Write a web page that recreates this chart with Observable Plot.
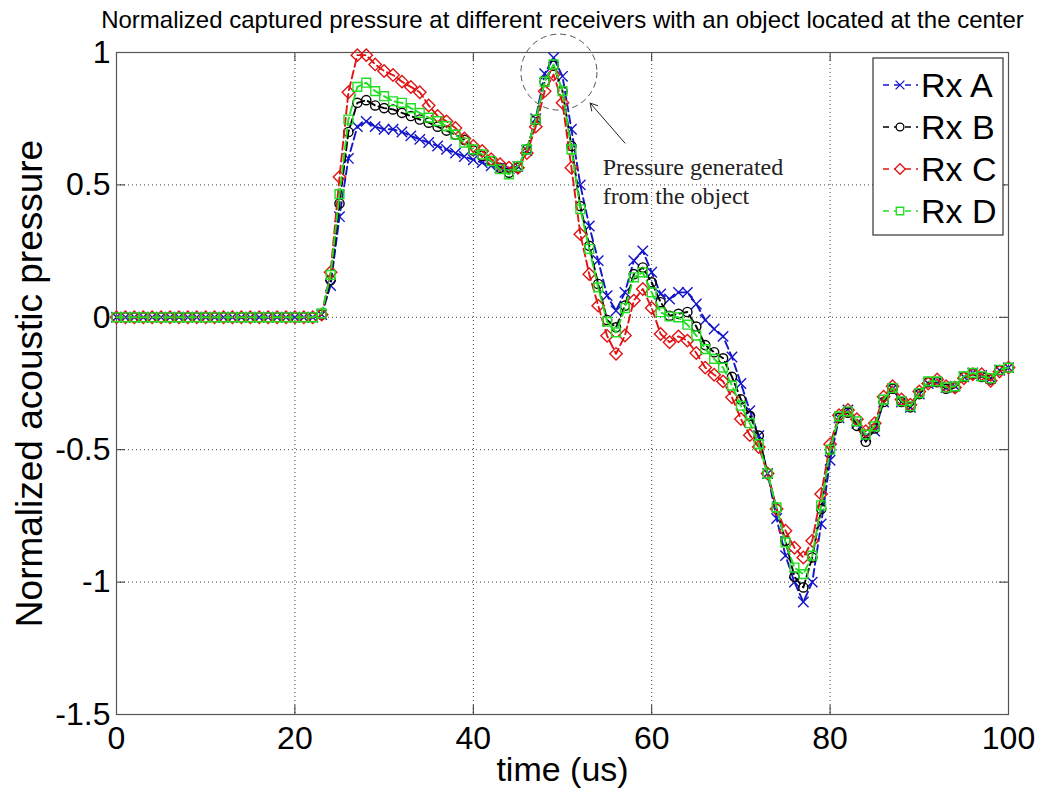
<!DOCTYPE html>
<html>
<head>
<meta charset="utf-8">
<script src="https://cdn.jsdelivr.net/npm/d3@7"></script>
<script src="https://cdn.jsdelivr.net/npm/@observablehq/plot@0.6"></script>
<style>
  html, body { margin: 0; padding: 0; background: #fff; }
  #chart svg { display: block; }
</style>
</head>
<body>
<div id="chart"></div>
<script>
const time = [0,1,2,3,4,5,6,7,8,9,10,11,12,13,14,15,16,17,18,19,20,21,22,23,24,25,26,27,28,29,30,31,32,33,34,35,36,37,38,39,40,41,42,43,44,45,46,47,48,49,50,51,52,53,54,55,56,57,58,59,60,61,62,63,64,65,66,67,68,69,70,71,72,73,74,75,76,77,78,79,80,81,82,83,84,85,86,87,88,89,90,91,92,93,94,95,96,97,98,99,100];

const rxA = [0,0,0,0,0,0,0,0,0,0,0,0,0,0,0,0,0,0,0,0,0,0,0,
  0.01,0.12,0.38,0.60,0.72,0.74,0.72,0.71,0.71,0.70,0.685,0.672,0.66,0.647,0.634,0.62,0.607,0.595,0.584,0.572,0.565,0.56,0.57,0.63,0.75,0.92,0.98,0.91,0.71,0.50,0.345,0.214,0.082,0.025,0.094,0.214,0.251,0.17,0.088,0.069,0.094,0.094,0.05,-0.01,-0.044,-0.072,-0.15,-0.25,-0.353,-0.447,-0.59,-0.76,-0.9,-1.0,-1.075,-1.0,-0.78,-0.54,-0.38,-0.35,-0.40,-0.45,-0.43,-0.32,-0.27,-0.32,-0.34,-0.29,-0.25,-0.245,-0.265,-0.26,-0.225,-0.21,-0.22,-0.23,-0.2,-0.19];

const rxB = [0,0,0,0,0,0,0,0,0,0,0,0,0,0,0,0,0,0,0,0,0,0,0,
  0.01,0.14,0.43,0.70,0.81,0.82,0.80,0.79,0.785,0.772,0.76,0.747,0.735,0.72,0.705,0.69,0.67,0.63,0.61,0.59,0.565,0.546,0.565,0.634,0.745,0.89,0.95,0.854,0.647,0.42,0.27,0.126,-0.01,-0.038,0.044,0.163,0.188,0.132,0.057,0.006,0.013,0.02,-0.035,-0.105,-0.132,-0.155,-0.225,-0.31,-0.372,-0.447,-0.59,-0.724,-0.844,-0.98,-1.02,-0.907,-0.724,-0.5,-0.38,-0.36,-0.41,-0.47,-0.42,-0.32,-0.27,-0.32,-0.34,-0.29,-0.245,-0.245,-0.27,-0.265,-0.225,-0.215,-0.225,-0.235,-0.2,-0.19];

const rxC = [0,0,0,0,0,0,0,0,0,0,0,0,0,0,0,0,0,0,0,0,0,0,0,
  0.01,0.17,0.53,0.85,0.99,0.99,0.955,0.93,0.915,0.89,0.87,0.85,0.80,0.76,0.74,0.715,0.675,0.647,0.628,0.597,0.578,0.565,0.565,0.62,0.72,0.854,0.917,0.81,0.565,0.314,0.163,0.044,-0.07,-0.138,-0.069,0.063,0.107,0.035,-0.063,-0.094,-0.072,-0.088,-0.135,-0.19,-0.217,-0.242,-0.302,-0.384,-0.445,-0.49,-0.59,-0.724,-0.806,-0.87,-0.907,-0.844,-0.667,-0.479,-0.37,-0.35,-0.385,-0.43,-0.40,-0.30,-0.26,-0.31,-0.33,-0.28,-0.25,-0.235,-0.26,-0.265,-0.23,-0.215,-0.215,-0.24,-0.205,-0.19];

const rxD = [0,0,0,0,0,0,0,0,0,0,0,0,0,0,0,0,0,0,0,0,0,0,0,
  0.015,0.16,0.465,0.747,0.87,0.886,0.854,0.835,0.816,0.81,0.79,0.772,0.754,0.741,0.722,0.69,0.66,0.634,0.615,0.59,0.559,0.54,0.571,0.634,0.747,0.89,0.955,0.854,0.634,0.408,0.258,0.113,-0.016,-0.057,0.035,0.151,0.17,0.094,0.019,0.003,0,-0.028,-0.069,-0.12,-0.157,-0.19,-0.258,-0.334,-0.4,-0.479,-0.59,-0.718,-0.85,-0.945,-0.97,-0.9,-0.71,-0.5,-0.374,-0.355,-0.393,-0.443,-0.412,-0.311,-0.267,-0.317,-0.336,-0.286,-0.242,-0.242,-0.265,-0.261,-0.223,-0.21,-0.223,-0.23,-0.198,-0.19];

const seriesNames = ["Rx A", "Rx B", "Rx C", "Rx D"];
const seriesColors = ["#1414c8", "#000000", "#e01414", "#22dd22"];
const seriesSymbols = ["times", "circle", "diamond2", "square2"];
const seriesSizes = [4.8, 4.6, 5.6, 5.6];
const seriesValues = [rxA, rxB, rxC, rxD];

const xTicks = [0, 20, 40, 60, 80, 100];
const yTicks = [-1.5, -1, -0.5, 0, 0.5, 1];

const titleText = "Normalized captured pressure at different receivers with an object located at the center";
const xLabel = "time (us)";
const yLabel = "Normalized acoustic pressure";
const noteText = "Pressure generated\nfrom the object";
const noteCircle = [{x: 49.6, y: 0.926}];
const noteArrow = [{x1: 57.0, y1: 0.658, x2: 53.1, y2: 0.809}];
const notePos = [{x: 54.5, y: 0.615}];

const W = 1045, H = 793;
const mL = 116, mR = 37, mT = 52, mB = 79;
const fw = W - mL - mR, fh = H - mT - mB;

const rows = [];
seriesValues.forEach((vals, k) => {
  vals.forEach((v, i) => rows.push({t: time[i], v, s: seriesNames[k]}));
});

const marks = [
  Plot.gridX(xTicks, {stroke: "#000", strokeOpacity: 0.75, strokeWidth: 1, strokeDasharray: "1,3"}),
  Plot.gridY(yTicks, {stroke: "#000", strokeOpacity: 0.75, strokeWidth: 1, strokeDasharray: "1,3"}),
  Plot.tickX(xTicks, {x: d => d, insetTop: fh - 9, stroke: "#333"}),
  Plot.tickX(xTicks, {x: d => d, insetBottom: fh - 9, stroke: "#333"}),
  Plot.tickY(yTicks, {y: d => d, insetRight: fw - 9, stroke: "#333"}),
  Plot.tickY(yTicks, {y: d => d, insetLeft: fw - 9, stroke: "#333"}),
  Plot.frame({stroke: "#555", strokeWidth: 1.2}),
  Plot.axisX({ticks: xTicks, tickSize: 0, tickPadding: 12, fontSize: 32, label: null, tickFormat: d => String(d)}),
  Plot.axisY({ticks: yTicks, tickSize: 0, tickPadding: 6, fontSize: 32, label: null, tickFormat: d => String(d)})
];

seriesNames.forEach((name, k) => {
  const data = rows.filter(r => r.s === name);
  marks.push(Plot.line(data, {x: "t", y: "v", stroke: seriesColors[k], strokeWidth: 1.9, strokeDasharray: "8,4"}));
  marks.push(Plot.dot(data, {x: "t", y: "v", stroke: seriesColors[k], symbol: seriesSymbols[k], r: seriesSizes[k], strokeWidth: 1.4, fill: "none"}));
});

marks.push(
  Plot.dot(noteCircle, {x: "x", y: "y", r: 38, stroke: "#555", strokeWidth: 1, strokeDasharray: "6,4", fill: "none"}),
  Plot.arrow(noteArrow, {x1: "x1", y1: "y1", x2: "x2", y2: "y2", stroke: "#222", strokeWidth: 1, headLength: 12, bend: 0}),
  Plot.text(notePos, {x: "x", y: "y", text: () => noteText, textAnchor: "start", lineAnchor: "top", fontFamily: "Liberation Serif, Times New Roman, serif", fontSize: 24, lineHeight: 1.2, fill: "#222"}),
  Plot.text([titleText], {frameAnchor: "top", textAnchor: "middle", dy: -25, lineAnchor: "bottom", fontSize: 24, fill: "#000"}),
  Plot.text([xLabel], {frameAnchor: "bottom", textAnchor: "middle", dy: 66, lineAnchor: "bottom", fontSize: 34, fill: "#000"}),
  Plot.text([yLabel], {frameAnchor: "left", textAnchor: "middle", dx: -75, rotate: -90, lineAnchor: "bottom", fontSize: 37, fill: "#000"})
);

const chart = Plot.plot({
  width: W, height: H,
  marginLeft: mL, marginRight: mR, marginTop: mT, marginBottom: mB,
  style: {fontFamily: "Liberation Sans, Arial, Helvetica, sans-serif", background: "#fff", color: "#000"},
  x: {domain: [0, 100]},
  y: {domain: [-1.5, 1]},
  marks
});

// Legend
const svg = d3.select(chart);
const lg = svg.append("g");
lg.append("rect").attr("x", 873).attr("y", 58).attr("width", 130).attr("height", 177)
  .attr("fill", "#fff").attr("stroke", "#333").attr("stroke-width", 1.2);
const symMap = {times: d3.symbolTimes, circle: d3.symbolCircle, diamond2: d3.symbolDiamond2, square2: d3.symbolSquare2};
seriesNames.forEach((name, k) => {
  const cy = 85 + k * 42;
  lg.append("line").attr("x1", 883).attr("x2", 918).attr("y1", cy).attr("y2", cy)
    .attr("stroke", seriesColors[k]).attr("stroke-width", 1.6).attr("stroke-dasharray", "6,5");
  const r = seriesSizes[k] * 0.85;
  lg.append("path").attr("d", d3.symbol(symMap[seriesSymbols[k]], Math.PI * r * r)())
    .attr("transform", `translate(900,${cy})`).attr("fill", "#fff").attr("stroke", seriesColors[k]).attr("stroke-width", 1.3);
  lg.append("text").attr("x", 921).attr("y", cy + 12).attr("font-size", 34)
    .attr("text-anchor", "start")
    .attr("font-family", "Liberation Sans, Arial, sans-serif").attr("fill", "#000").text(name);
});

document.getElementById("chart").appendChild(chart);
</script>
</body>
</html>
